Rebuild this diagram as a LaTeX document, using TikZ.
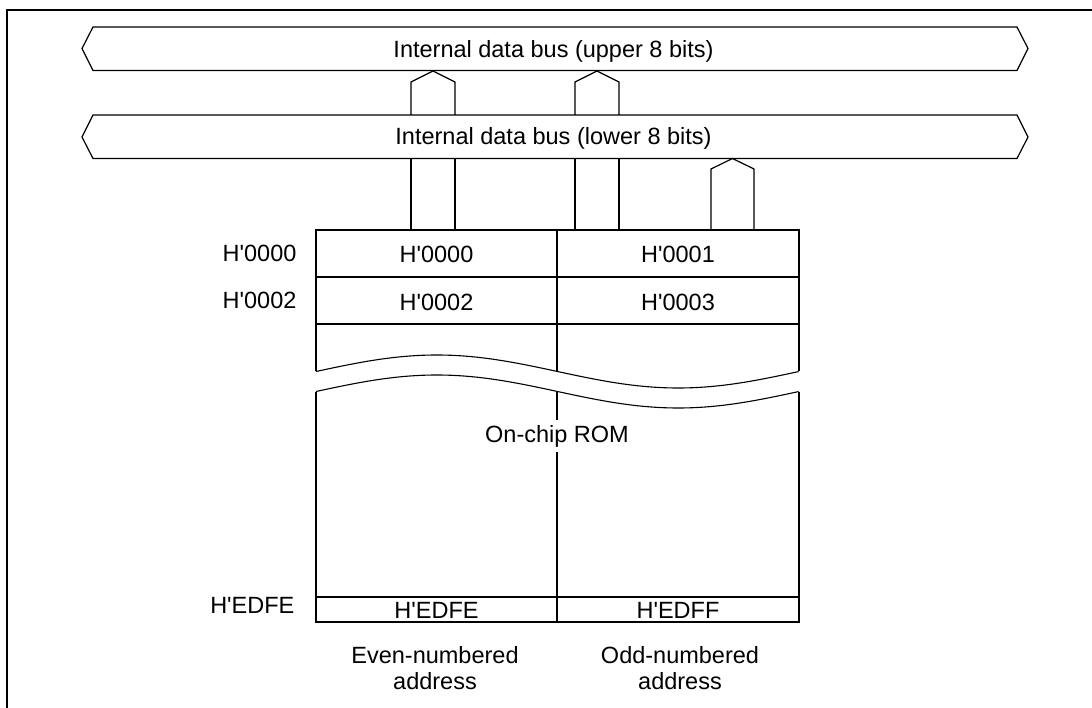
\documentclass[tikz,border=0pt]{standalone}
\usepackage{fontspec}
\setmainfont{Liberation Sans}
\newcommand{\hq}{\textquotesingle}
\begin{document}
\begin{tikzpicture}[x=1pt,y=-1pt,line width=1.2pt,line join=miter,
  txt/.style={anchor=base,inner sep=0pt,font=\fontsize{23.5}{28}\selectfont},
  rtxt/.style={anchor=base east,inner sep=0pt,font=\fontsize{23.5}{28}\selectfont},
  busline/.style={draw=black,fill=white,line width=1.2pt},
  frameline/.style={line width=2pt},
  cellline/.style={line width=1.1pt}]
\useasboundingbox (0,0) rectangle (1092,708);
\clip (0,0) rectangle (1092,708);
% outer frame (cut by the picture edge at right and bottom)
\draw[frameline] (7,10) rectangle (1120,740);

% buses
\coordinate (ubL) at (82,48.5); \coordinate (ubR) at (1028,48.5);
\coordinate (lbL) at (82,137);  \coordinate (lbR) at (1028,137);
\draw[busline] (ubL) -- (93,27) -- (1017,27) -- (ubR) -- (1017,70.5) -- (93,70.5) -- cycle;
\draw[busline] (lbL) -- (93,115) -- (1017,115) -- (lbR) -- (1017,158.5) -- (93,158.5) -- cycle;
\node[txt] (ubtext) at (553.5,57.5) {Internal data bus (upper 8 bits)};
\node[txt] (lbtext) at (553.5,145) {Internal data bus (lower 8 bits)};

% connectors: memory -> buses
\draw (411,115) -- (411,82) -- (433,71) -- (455,82) -- (455,115);
\draw (411,158.5) -- (411,230) (455,158.5) -- (455,230);
\draw (575,115) -- (575,82) -- (597,71) -- (619,82) -- (619,115);
\draw (575,158.5) -- (575,230) (619,158.5) -- (619,230);
\draw (711,230) -- (711,169) -- (732.5,158.5) -- (754,169) -- (754,230);

% memory upper block
\draw[cellline] (316,371.5) -- (316,230) -- (799,230) -- (799,371.5);
\draw[cellline] (316,277) -- (799,277);
\draw[cellline] (316,324) -- (799,324);
\draw[cellline] (557,230) -- (557,371.5);
\draw[cellline] plot[domain=0:1,samples=80,smooth] ({316+483*\x},{371.5-16.5*sin(360*\x)});
% memory lower block
\draw[cellline] plot[domain=0:1,samples=80,smooth] ({316+483*\x},{391.5-16.5*sin(360*\x)});
\draw[cellline] (316,391.5) -- (316,622) -- (799,622) -- (799,391.5);
\draw[cellline] (316,597) -- (799,597);
\draw[cellline] (557,391.5) -- (557,420);
\draw[cellline] (557,452) -- (557,622);

% cell texts
\node[txt] (c0) at (436.5,263) {H\hq0000};
\node[txt] (c1) at (678,263) {H\hq0001};
\node[txt] (c2) at (436.5,310.5) {H\hq0002};
\node[txt] (c3) at (678,310.5) {H\hq0003};
\node[txt] (rom) at (557,442.5) {On-chip ROM};
\node[txt] (ce) at (436.5,618) {H\hq EDFE};
\node[txt] (cf) at (678,618) {H\hq EDFF};

% address labels
\node[rtxt] (a0) at (297,261.5) {H\hq0000};
\node[rtxt] (a2) at (297,309) {H\hq0002};
\node[rtxt] (ae) at (295,613) {H\hq EDFE};

% column captions
\node[txt] (ev1) at (435,663) {Even-numbered};
\node[txt] (ev2) at (435,689) {address};
\node[txt] (od1) at (680,663) {Odd-numbered};
\node[txt] (od2) at (680,689) {address};
\end{tikzpicture}
\end{document}
